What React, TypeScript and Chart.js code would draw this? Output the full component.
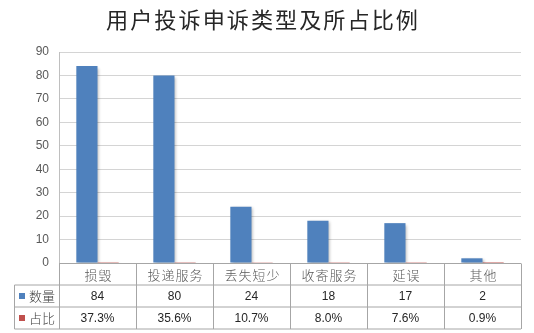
import React, { useEffect, useRef } from "react";
import { Chart, registerables } from "chart.js";

Chart.register(...registerables);

const TITLE = "用户投诉申诉类型及所占比例";
const categories = ["损毁", "投递服务", "丢失短少", "收寄服务", "延误", "其他"];
const countLabel = "数量";
const shareLabel = "占比";
const counts = [84, 80, 24, 18, 17, 2];
const shares = [0.373, 0.356, 0.107, 0.08, 0.076, 0.009];
const yTicksMax = 90;
const yStep = 10;

const BLUE = "#4F81BD";
const RED = "#C0504D";
const CJK = '"Noto Sans CJK SC", "Noto Sans", sans-serif';
const NUM = '"Liberation Sans", Arial, sans-serif';

function spacedText(ctx: CanvasRenderingContext2D, text: string, cx: number, y: number, spacing: number) {
  const chars = Array.from(text);
  const widths = chars.map((c) => ctx.measureText(c).width);
  const total = widths.reduce((a, b) => a + b, 0) + spacing * (chars.length - 1);
  let x = cx - total / 2;
  ctx.textAlign = "left";
  chars.forEach((c, i) => {
    ctx.fillText(c, x, y);
    x += widths[i] + spacing;
  });
}

export default function App() {
  const ref = useRef<HTMLCanvasElement | null>(null);

  useEffect(() => {
    if (!ref.current) return;

    const bgPlugin = {
      id: "bg",
      beforeDraw(chart: any) {
        const ctx = chart.ctx;
        ctx.save();
        ctx.fillStyle = "#ffffff";
        ctx.fillRect(0, 0, chart.width, chart.height);
        ctx.restore();
      },
    };

    const shadowPlugin = {
      id: "barShadow",
      beforeDatasetsDraw(chart: any) {
        const ctx = chart.ctx;
        ctx.save();
        ctx.shadowColor = "rgba(0,0,0,0.28)";
        ctx.shadowBlur = 3;
        ctx.shadowOffsetX = 1.5;
        ctx.shadowOffsetY = 1.5;
      },
      afterDatasetsDraw(chart: any) {
        chart.ctx.restore();
      },
    };

    const tablePlugin = {
      id: "dataTable",
      afterDraw(chart: any) {
        const ctx = chart.ctx;
        const area = chart.chartArea;
        const xs = chart.scales.x;
        const n = categories.length;
        const colW = (area.right - area.left) / n;
        const r0 = Math.round(area.bottom) + 0.5;
        const r1 = r0 + 21.5;
        const r2 = r1 + 22;
        const r3 = r2 + 22;
        const tableLeft = 14.5;

        ctx.save();
        // title: fit total advance to ~312px with small gaps
        ctx.fillStyle = "#262626";
        ctx.textBaseline = "middle";
        const gap = 2;
        const target = 312;
        ctx.font = `24px ${CJK}`;
        const chars = Array.from(TITLE);
        const sum = chars.reduce((a, c) => a + ctx.measureText(c).width, 0);
        const size = Math.min(26, 24 * (target - gap * (chars.length - 1)) / sum);
        ctx.font = `${size.toFixed(2)}px ${CJK}`;
        spacedText(ctx, TITLE, 262, 19.5, gap);

        // lines
        ctx.strokeStyle = "#a6a6a6";
        ctx.lineWidth = 1;
        ctx.beginPath();
        ctx.moveTo(area.left, r0);
        ctx.lineTo(area.right, r0);
        [r1, r2, r3].forEach((y) => {
          ctx.moveTo(tableLeft, y);
          ctx.lineTo(area.right, y);
        });
        ctx.moveTo(tableLeft, r1);
        ctx.lineTo(tableLeft, r3);
        for (let i = 0; i <= n; i++) {
          const x = Math.round(xs.getPixelForValue(0) - colW / 2 + i * colW) + 0.5;
          ctx.moveTo(x, r0);
          ctx.lineTo(x, r3);
        }
        ctx.stroke();

        // category labels
        ctx.textBaseline = "middle";
        ctx.fillStyle = "#595959";
        ctx.font = `300 13px ${CJK}`;
        categories.forEach((c, i) => {
          spacedText(ctx, c, xs.getPixelForValue(i) + 0.5, (r0 + r1) / 2 + 0.5, 1);
        });

        // values
        ctx.textAlign = "center";
        ctx.fillStyle = "#262626";
        ctx.font = `12px ${NUM}`;
        counts.forEach((v, i) => {
          ctx.fillText(String(v), xs.getPixelForValue(i), (r1 + r2) / 2 + 0.5);
        });
        shares.forEach((v, i) => {
          ctx.fillText((v * 100).toFixed(1) + "%", xs.getPixelForValue(i), (r2 + r3) / 2 + 0.5);
        });

        // legend keys
        const rows = [
          { label: countLabel, color: BLUE, y: (r1 + r2) / 2 },
          { label: shareLabel, color: RED, y: (r2 + r3) / 2 },
        ];
        rows.forEach((r) => {
          ctx.fillStyle = r.color;
          ctx.fillRect(19, Math.round(r.y) - 3, 6, 6);
          ctx.fillStyle = "#404040";
          ctx.font = `300 13px ${CJK}`;
          ctx.textAlign = "left";
          ctx.fillText(r.label, 29, r.y + 0.5);
        });
        ctx.restore();
      },
    };

    const chart = new Chart(ref.current, {
      type: "bar",
      data: {
        labels: categories,
        datasets: [
          { label: countLabel, data: counts, backgroundColor: BLUE, borderWidth: 0 },
          { label: shareLabel, data: shares, backgroundColor: RED, borderWidth: 0 },
        ],
      },
      options: {
        animation: false,
        responsive: true,
        maintainAspectRatio: false,
        devicePixelRatio: 1,
        datasets: { bar: { categoryPercentage: 0.55, barPercentage: 1 } },
        layout: { padding: { top: 52, right: 13, bottom: 70, left: 0 } },
        plugins: {
          legend: { display: false },
          title: { display: false },
          tooltip: { enabled: false },
        },
        scales: {
          x: { display: false, grid: { display: false } },
          y: {
            min: 0,
            max: yTicksMax,
            ticks: {
              stepSize: yStep,
              color: "#595959",
              font: { family: NUM, size: 12 },
              padding: 10,
            },
            grid: { color: "#d4d4d4", drawTicks: false },
            border: { display: true, color: "#bfbfbf" },
            afterFit(scale: any) {
              scale.width = 59;
            },
          },
        },
      },
      plugins: [bgPlugin, shadowPlugin, tablePlugin],
    });
    return () => chart.destroy();
  }, []);

  return (
    <div style={{ position: "absolute", left: 0, top: 0, width: 534, height: 333, background: "#fff" }}>
      <canvas ref={ref} />
    </div>
  );
}
